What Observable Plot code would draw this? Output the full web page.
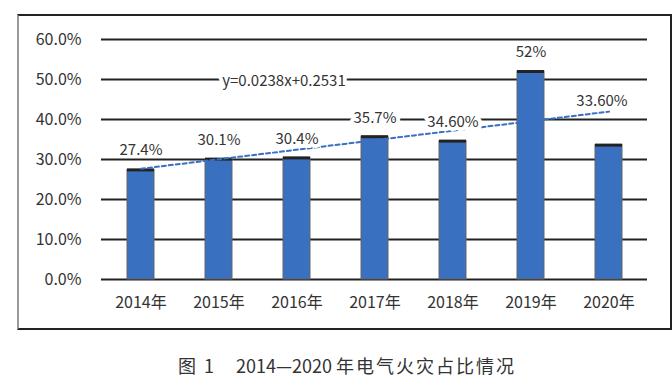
<!DOCTYPE html>
<html>
<head>
<meta charset="utf-8">
<script src="https://cdn.jsdelivr.net/npm/d3@7"></script>
<script src="https://cdn.jsdelivr.net/npm/@observablehq/plot@0.6"></script>
<style>
  html, body { margin: 0; padding: 0; background: #fff; }
  #wrap { position: relative; width: 672px; height: 379px; overflow: hidden; font-family: "Noto Sans CJK SC", "Noto Sans", sans-serif; }
  #frame { position: absolute; left: 17px; top: 14px; width: 651px; height: 312px;
           border-top: 2px solid #222; border-bottom: 2px solid #222; border-left: 2px solid #999; border-right: 2px solid #222; pointer-events: none; }
  #chart { position: absolute; left: 0; top: 0; }
  #caption { position: absolute; left: 178px; top: 352px; white-space: nowrap; font-size: 18px; color: #333; }
  #caption .cjk { letter-spacing: 2px; }
</style>
</head>
<body>
<div id="wrap">
  <div id="chart"></div>
  <div id="frame"></div>
  <div id="caption"><span class="cjk">图 1　</span>2014—2020 <span class="cjk">年电气火灾占比情况</span></div>
</div>
<script>
const years = ["2014年", "2015年", "2016年", "2017年", "2018年", "2019年", "2020年"];
const values = [0.274, 0.301, 0.304, 0.357, 0.346, 0.52, 0.336];
const valueLabels = ["27.4%", "30.1%", "30.4%", "35.7%", "34.60%", "52%", "33.60%"];
const yTicks = [0, 0.1, 0.2, 0.3, 0.4, 0.5, 0.6];
const trendYears = ["2014年", "2020年"];
const trendValues = [0.2769, 0.4197];
const trendEquation = "y=0.0238x+0.2531";

const data = years.map((y, i) => ({year: y, value: values[i], label: valueLabels[i]}));
const trend = trendYears.map((y, i) => ({year: y, value: trendValues[i]}));
const firstLabel = data.slice(0, 1);
const mainLabels = data.slice(1, -1);
const lastLabel = data.slice(-1);

const font = "'Noto Sans CJK SC', 'Noto Sans', sans-serif";

const chart = Plot.plot({
  width: 672,
  height: 335,
  marginLeft: 101,
  marginRight: 25,
  marginTop: 39,
  marginBottom: 56,
  style: {fontFamily: font, fontSize: "15px", color: "#333", background: "transparent"},
  x: {domain: years, paddingInner: 0.656, paddingOuter: 0.3, label: null},
  y: {domain: [0, 0.6], label: null},
  marks: [
    Plot.ruleY(yTicks, {stroke: "#222", strokeWidth: 2}),
    Plot.axisY({ticks: yTicks, tickFormat: d3.format(".1%"), tickSize: 0, tickPadding: 20, fontSize: 16, fill: "#333"}),
    Plot.axisX({tickSize: 0, tickPadding: 17, fontSize: 16, fill: "#333"}),
    Plot.barY(data, {x: "year", y: "value", fill: "#3A70C0", stroke: "#666", strokeWidth: 1}),
    Plot.tickY(data, {x: "year", y: "value", stroke: "#222", strokeWidth: 3}),
    Plot.line(trend, {x: "year", y: "value", stroke: "#3A70C0", strokeWidth: 2, strokeDasharray: "4,3"}),
    Plot.text([trendEquation], {x: () => years[2], y: () => 0.5, text: d => d, dx: -13, dy: 2, fontSize: 15, fill: "#333", stroke: "white", strokeWidth: 8}),
    Plot.text(firstLabel, {x: "year", y: "value", text: "label", dy: -20, fontSize: 15, fill: "#333"}),
    Plot.text(mainLabels, {x: "year", y: "value", text: "label", dy: -19, fontSize: 15, fill: "#333", stroke: "white", strokeWidth: 8}),
    Plot.text(lastLabel, {x: "year", y: "value", text: "label", dy: -44, dx: -7, fontSize: 15, fill: "#333", stroke: "white", strokeWidth: 8})
  ]
});
document.getElementById("chart").appendChild(chart);
</script>
</body>
</html>
